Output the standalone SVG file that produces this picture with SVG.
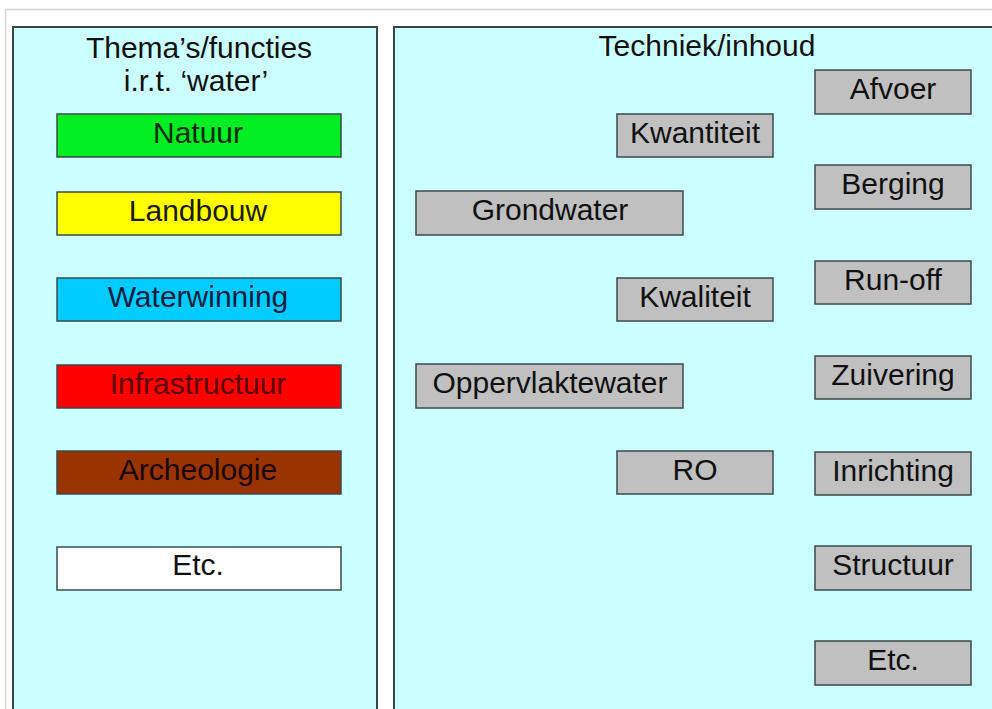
<svg xmlns="http://www.w3.org/2000/svg" width="992" height="709" viewBox="0 0 992 709">
<style>
.panel{fill:#CCFFFF;stroke:#3a4646;stroke-width:2}
.box{stroke:#3e4a4a;stroke-width:1.5}
.gray{fill:#C0C0C0}
text{font-family:"Liberation Sans",Arial,sans-serif;font-size:30px;text-anchor:middle;fill:#111}
</style>
<rect x="0" y="0" width="992" height="709" fill="#ffffff"/>
<path d="M5.5,709 V9.5 H992" fill="none" stroke="#d4d4d4" stroke-width="1.5"/>
<g id="panel-left">
<rect class="panel" x="13" y="27" width="364" height="700"/>
<text x="199" y="58">Thema’s/functies</text>
<text x="196" y="91">i.r.t. ‘water’</text>
</g>
<g id="panel-right">
<rect class="panel" x="394" y="27" width="620" height="700"/>
<text x="707" y="56">Techniek/inhoud</text>
</g>
<g id="natuur"><rect class="box" x="57" y="114" width="284" height="43" fill="#00EE22"/><text x="198" y="143" style="fill:#0a2a0a">Natuur</text></g>
<g id="landbouw"><rect class="box" x="57" y="192" width="284" height="43" fill="#FFFF00"/><text x="198" y="221" style="fill:#1a1a00">Landbouw</text></g>
<g id="waterwinning"><rect class="box" x="57" y="278" width="284" height="43" fill="#00CCFF"/><text x="198" y="307" style="fill:#0a2040">Waterwinning</text></g>
<g id="infrastructuur"><rect class="box" x="57" y="365" width="284" height="43" fill="#FF0000"/><text x="198" y="394" style="fill:#5a0000">Infrastructuur</text></g>
<g id="archeologie"><rect class="box" x="57" y="451" width="284" height="43" fill="#993300"/><text x="198" y="480" style="fill:#1a0800">Archeologie</text></g>
<g id="etc-left"><rect class="box" x="57" y="547" width="284" height="43" fill="#FFFFFF"/><text x="198" y="575">Etc.</text></g>
<g id="afvoer"><rect class="box gray" x="815" y="70" width="156" height="44"/><text x="893" y="99">Afvoer</text></g>
<g id="kwantiteit"><rect class="box gray" x="617" y="114" width="156" height="43"/><text x="695" y="143">Kwantiteit</text></g>
<g id="berging"><rect class="box gray" x="815" y="165" width="156" height="44"/><text x="893" y="194">Berging</text></g>
<g id="grondwater"><rect class="box gray" x="416" y="191" width="267" height="44"/><text x="550" y="220">Grondwater</text></g>
<g id="runoff"><rect class="box gray" x="815" y="261" width="156" height="43"/><text x="893" y="290">Run-off</text></g>
<g id="kwaliteit"><rect class="box gray" x="617" y="278" width="156" height="43"/><text x="695" y="307">Kwaliteit</text></g>
<g id="zuivering"><rect class="box gray" x="815" y="356" width="156" height="43"/><text x="893" y="385">Zuivering</text></g>
<g id="oppervlaktewater"><rect class="box gray" x="416" y="364" width="267" height="44"/><text x="550" y="393">Oppervlaktewater</text></g>
<g id="ro"><rect class="box gray" x="617" y="451" width="156" height="43"/><text x="695" y="480">RO</text></g>
<g id="inrichting"><rect class="box gray" x="815" y="452" width="156" height="43"/><text x="893" y="481">Inrichting</text></g>
<g id="structuur"><rect class="box gray" x="815" y="546" width="156" height="44"/><text x="893" y="575">Structuur</text></g>
<g id="etc-right"><rect class="box gray" x="815" y="641" width="156" height="44"/><text x="893" y="670">Etc.</text></g>
<g id="connectors"></g>
</svg>
